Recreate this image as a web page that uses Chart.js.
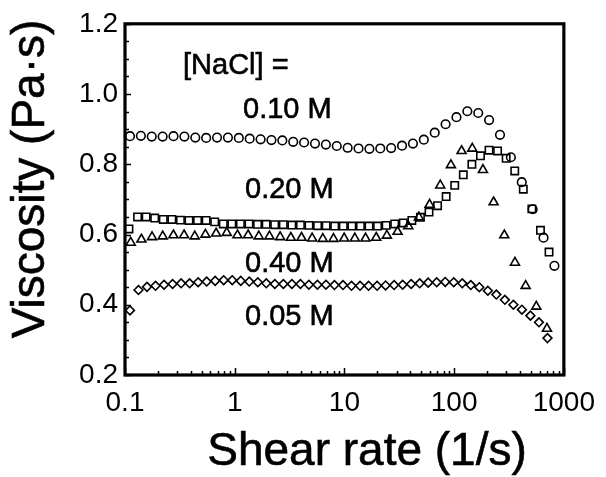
<html>
<head>
<script src="https://cdn.jsdelivr.net/npm/chart.js@4.4.0/dist/chart.umd.min.js"></script>
<style>
  body { margin: 0; background: #fff; }
  #wrap { width: 606px; height: 477px; }
</style>
</head>
<body>
<div id="wrap"><canvas id="viscChart" width="606" height="477"></canvas></div>

<script>
  // shear rate (1/s) and viscosity (Pa.s)
  var rate010 = [0.111, 0.1395, 0.1753, 0.2203, 0.2768, 0.3478, 0.4371, 0.5492, 0.6901, 0.8672,
    1.090, 1.369, 1.721, 2.162, 2.717, 3.414, 4.290, 5.391, 6.774, 8.513,
    10.70, 13.44, 16.89, 21.22, 26.67, 33.51, 42.11, 52.92, 66.50, 83.56,
    105.0, 131.9, 165.8, 208.3, 261.8, 329.0, 413.4, 519.5, 652.8, 820.3];
  var visc010 = [0.880, 0.881, 0.879, 0.879, 0.880, 0.879, 0.876, 0.875, 0.876, 0.876,
    0.875, 0.873, 0.871, 0.869, 0.868, 0.864, 0.862, 0.859, 0.856, 0.852,
    0.847, 0.845, 0.844, 0.845, 0.846, 0.853, 0.859, 0.870, 0.890, 0.914,
    0.934, 0.951, 0.946, 0.926, 0.884, 0.820, 0.749, 0.672, 0.591, 0.511];

  var rate020 = [0.1087, 0.1302, 0.1558, 0.1865, 0.2233, 0.2673, 0.3200, 0.3830, 0.4585, 0.5489,
    0.6571, 0.7866, 0.9416, 1.127, 1.349, 1.615, 1.934, 2.315, 2.771, 3.317,
    3.971, 4.754, 5.691, 6.812, 8.155, 9.762, 11.69, 13.99, 16.75, 20.05,
    24.00, 28.73, 34.39, 41.17, 49.29, 59.00, 70.63, 84.55, 101.2, 121.2,
    145.1, 173.7, 207.9, 248.9, 297.9, 356.7, 427.0, 511.1, 611.9, 732.5];
  var visc020 = [0.616, 0.650, 0.650, 0.647, 0.643, 0.643, 0.641, 0.640, 0.640, 0.640,
    0.636, 0.630, 0.630, 0.630, 0.630, 0.629, 0.629, 0.628, 0.628, 0.627,
    0.627, 0.626, 0.625, 0.625, 0.624, 0.624, 0.624, 0.624, 0.624, 0.624,
    0.626, 0.630, 0.633, 0.640, 0.649, 0.664, 0.682, 0.708, 0.740, 0.770,
    0.800, 0.824, 0.840, 0.838, 0.817, 0.781, 0.729, 0.673, 0.612, 0.550];

  var rate040 = [0.1127, 0.1410, 0.1764, 0.2207, 0.2761, 0.3454, 0.4321, 0.5406, 0.6764, 0.8462,
    1.059, 1.325, 1.657, 2.073, 2.594, 3.245, 4.060, 5.079, 6.354, 7.950,
    9.946, 12.44, 15.57, 19.48, 24.37, 30.49, 38.14, 47.72, 59.70, 74.69,
    93.44, 116.9, 146.3, 183.0, 228.9, 286.4, 358.3, 448.3, 560.8, 701.6];
  var visc040 = [0.577, 0.586, 0.593, 0.595, 0.598, 0.598, 0.595, 0.600, 0.603, 0.605,
    0.598, 0.598, 0.595, 0.595, 0.593, 0.591, 0.591, 0.589, 0.588, 0.588,
    0.589, 0.589, 0.589, 0.591, 0.597, 0.608, 0.624, 0.649, 0.685, 0.740,
    0.798, 0.838, 0.845, 0.784, 0.692, 0.598, 0.520, 0.454, 0.395, 0.332];

  var rate005 = [0.1110, 0.1327, 0.1587, 0.1898, 0.2270, 0.2714, 0.3246, 0.3881, 0.4641, 0.5550,
    0.6637, 0.7936, 0.9490, 1.135, 1.357, 1.623, 1.940, 2.320, 2.775, 3.318,
    3.968, 4.745, 5.674, 6.785, 8.113, 9.702, 11.60, 13.87, 16.59, 19.84,
    23.72, 28.37, 33.92, 40.56, 48.50, 58.00, 69.36, 82.94, 99.18, 118.6,
    141.8, 169.6, 202.8, 242.5, 290.0, 346.8, 414.7, 495.9, 593.0, 709.1];
  var visc005 = [0.384, 0.442, 0.451, 0.454, 0.457, 0.459, 0.461, 0.461, 0.464, 0.466,
    0.468, 0.470, 0.470, 0.468, 0.466, 0.464, 0.461, 0.459, 0.459, 0.459,
    0.459, 0.457, 0.457, 0.457, 0.456, 0.456, 0.454, 0.454, 0.454, 0.454,
    0.455, 0.456, 0.457, 0.459, 0.461, 0.463, 0.464, 0.465, 0.464, 0.461,
    0.456, 0.450, 0.440, 0.429, 0.414, 0.400, 0.386, 0.369, 0.350, 0.305];

  var xTicks = [0.1, 1, 10, 100, 1000];
  var xTickLabels = ['0.1', '1', '10', '100', '1000'];
  var yTicks = [0.2, 0.4, 0.6, 0.8, 1.0, 1.2];

  var FONT = '"Liberation Sans", Arial, sans-serif';

  function pairs(xs, ys) {
    return xs.map(function (x, i) { return { x: x, y: ys[i] }; });
  }

  function markerSet(label, xs, ys, style, r) {
    return {
      label: label,
      data: pairs(xs, ys),
      pointStyle: style,
      pointRadius: r,
      pointBorderWidth: 1.6,
      pointBorderColor: '#000',
      pointBackgroundColor: 'rgba(0,0,0,0)',
      showLine: false
    };
  }

  // heavier text, the scan looks a bit bold
  function heavyText(ctx, txt, x, y) {
    ctx.fillText(txt, x, y);
    ctx.strokeText(txt, x, y);
  }

  // frame, inward ticks, labels and axis titles
  var framePlugin = {
    id: 'framePlugin',
    afterDraw: function (chart) {
      var ctx = chart.ctx, a = chart.chartArea;
      var xs = chart.scales.x, ys = chart.scales.y;
      ctx.save();
      ctx.strokeStyle = '#000';
      ctx.lineWidth = 1.5;
      ctx.beginPath();
      // y ticks every 0.05
      for (var i = 0; i <= 20; i++) {
        var py = Math.round(ys.getPixelForValue(0.2 + i * 0.05)) + 0.5;
        var len = (i % 4 == 0) ? 6 : 4;
        ctx.moveTo(a.left, py); ctx.lineTo(a.left + len, py);
      }
      // x ticks, decades and 2..9
      for (var d = 0; d < 4; d++) {
        for (var m = 1; m <= 10; m++) {
          var px = Math.round(xs.getPixelForValue(xTicks[d] * m)) + 0.5;
          var l2 = (m == 1 || m == 10) ? 7 : 4;
          ctx.moveTo(px, a.bottom); ctx.lineTo(px, a.bottom - l2);
        }
      }
      ctx.stroke();

      ctx.lineWidth = 3.2;
      ctx.strokeRect(a.left, a.top, a.right - a.left, a.bottom - a.top);

      ctx.fillStyle = '#000';
      ctx.lineWidth = 0.6;
      ctx.textBaseline = 'middle';
      ctx.textAlign = 'left';
      ctx.font = '29px ' + FONT;
      heavyText(ctx, '[NaCl] =', 183, 66);
      heavyText(ctx, '0.10 M', 243, 110);
      heavyText(ctx, '0.20 M', 245, 190);
      heavyText(ctx, '0.40 M', 245, 264);
      heavyText(ctx, '0.05 M', 245, 317);

      ctx.font = '46px ' + FONT;
      ctx.textAlign = 'center';
      heavyText(ctx, 'Shear rate (1/s)', 367, 452);
      ctx.translate(31, 179);
      ctx.rotate(-Math.PI / 2);
      heavyText(ctx, 'Viscosity (Pa\u00b7s)', 0, 0);
      ctx.restore();
    }
  };

  var viscChart = new Chart(document.getElementById('viscChart'), {
    type: 'scatter',
    data: {
      datasets: [
        markerSet('0.10 M', rate010, visc010, 'circle', 4.3),
        markerSet('0.20 M', rate020, visc020, 'rect', 5.2),
        markerSet('0.40 M', rate040, visc040, 'triangle', 5.2),
        markerSet('0.05 M', rate005, visc005, 'rectRot', 4.4)
      ]
    },
    options: {
      responsive: false,
      animation: false,
      layout: { padding: { top: 21, right: 40, left: 0, bottom: 0 } },
      plugins: { legend: { display: false }, tooltip: { enabled: false } },
      scales: {
        x: {
          type: 'logarithmic',
          min: 0.1,
          max: 1000,
          afterBuildTicks: function (s) { s.ticks = xTicks.map(function (v) { return { value: v }; }); },
          afterFit: function (s) { s.height = 102; },
          grid: { display: false, drawTicks: false },
          border: { display: false },
          ticks: {
            color: '#000',
            font: { family: FONT, size: 28 },
            padding: 11,
            maxRotation: 0,
            autoSkip: false,
            callback: function (v) { return xTickLabels[xTicks.indexOf(v)]; }
          }
        },
        y: {
          min: 0.2,
          max: 1.2,
          afterBuildTicks: function (s) { s.ticks = yTicks.map(function (v) { return { value: v }; }); },
          afterFit: function (s) { s.width = 125; },
          grid: { display: false, drawTicks: false },
          border: { display: false },
          ticks: {
            color: '#000',
            font: { family: FONT, size: 28 },
            padding: 7,
            callback: function (v) { return v.toFixed(1); }
          }
        }
      }
    },
    plugins: [framePlugin]
  });
</script>
</body>
</html>
